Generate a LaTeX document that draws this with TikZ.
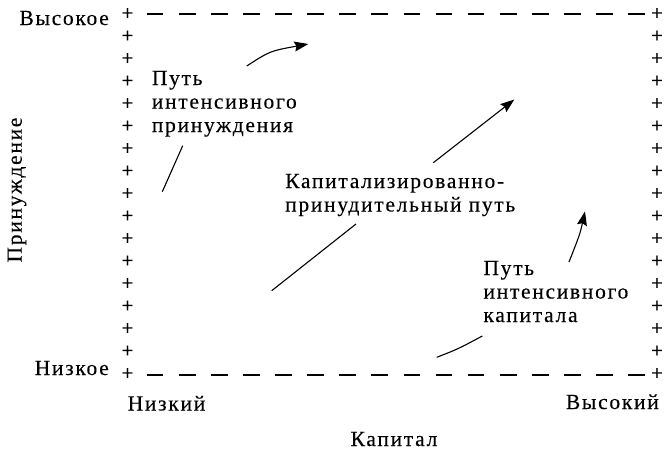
\documentclass[tikz,border=0pt]{standalone}
\usepackage{fontspec}
\setmainfont{Liberation Serif}[LetterSpace=8,FakeBold=0.25]
\newfontfamily\plusfont{Liberation Serif}[FakeBold=0.25]
\usetikzlibrary{arrows.meta}
\begin{document}
\begin{tikzpicture}[x=1pt,y=-1pt,
  every node/.style={inner sep=0pt},
  txt/.style={font=\fontsize{21.5}{23.5}\selectfont},
  plusmark/.style={font=\plusfont\fontsize{21}{23}\selectfont},
  dline/.style={line width=1.2pt, dash pattern=on 16.7pt off 15.4pt},
  conn/.style={line width=1.1pt},
  arr/.style={conn, -{Stealth[length=14pt,width=10pt,inset=2pt]}}]
\useasboundingbox (0,0) rectangle (664,451);
% plus columns
\foreach \k in {0,...,16}{
  \node[plusmark] (pl\k) at (127.5,14+22.5*\k) {+};
  \node[plusmark] (pr\k) at (657,14+22.5*\k) {+};
}
% dashed borders
\coordinate (tl) at (146.7,14);
\coordinate (tr) at (645,14);
\coordinate (bl) at (146.7,375);
\coordinate (br) at (645,375);
\draw[dline] (tl) -- (tr);
\draw[dline] (bl) -- (br);
% axis labels
\node[txt, anchor=base east] (hiY) at (109,25) {Высокое};
\node[txt, anchor=base east] (loY) at (109,375) {Низкое};
\node[txt, anchor=base west] (loX) at (127.5,410.5) {Низкий};
\node[txt, anchor=base east] (hiX) at (659,409) {Высокий};
\node[txt, anchor=base] (xlab) at (394,446) {Капитал};
\node[txt, anchor=base, rotate=90] (ylab) at (21.7,190) {Принуждение};
% path labels
\node[txt, anchor=base west] (coer) at (151.7,85)
  {\begin{tabular}[t]{@{}l@{}}Путь\\интенсивного\\принуждения\end{tabular}};
\node[txt, anchor=base west] (capco) at (285,188)
  {\begin{tabular}[t]{@{}l@{}}Капитализированно-\\принудительный путь\end{tabular}};
\node[txt, anchor=base west] (capi) at (483.3,275)
  {\begin{tabular}[t]{@{}l@{}}Путь\\интенсивного\\капитала\end{tabular}};
% connectors
\coordinate (a1s) at (246.7,66);
\coordinate (a1e) at (308.3,44);
\coordinate (l1s) at (162.3,191.7);
\coordinate (l1e) at (182.7,145.7);
\coordinate (a2s) at (433.3,162.7);
\coordinate (a2e) at (514.3,99.5);
\coordinate (l2s) at (271.7,290.7);
\coordinate (l2e) at (356,224);
\coordinate (a3s) at (569,262);
\coordinate (a3e) at (585,211.5);
\coordinate (l3s) at (436.7,357.3);
\coordinate (l3e) at (482.3,336);
\draw[arr] (a1s) .. controls (270,51) .. (a1e);
\draw[conn] (l1s) -- (l1e);
\draw[arr] (a2s) -- (a2e);
\draw[conn] (l2s) -- (l2e);
\draw[arr] (a3s) .. controls (580,234) .. (a3e);
\draw[conn] (l3s) .. controls (458,349) .. (l3e);
\end{tikzpicture}
\end{document}
